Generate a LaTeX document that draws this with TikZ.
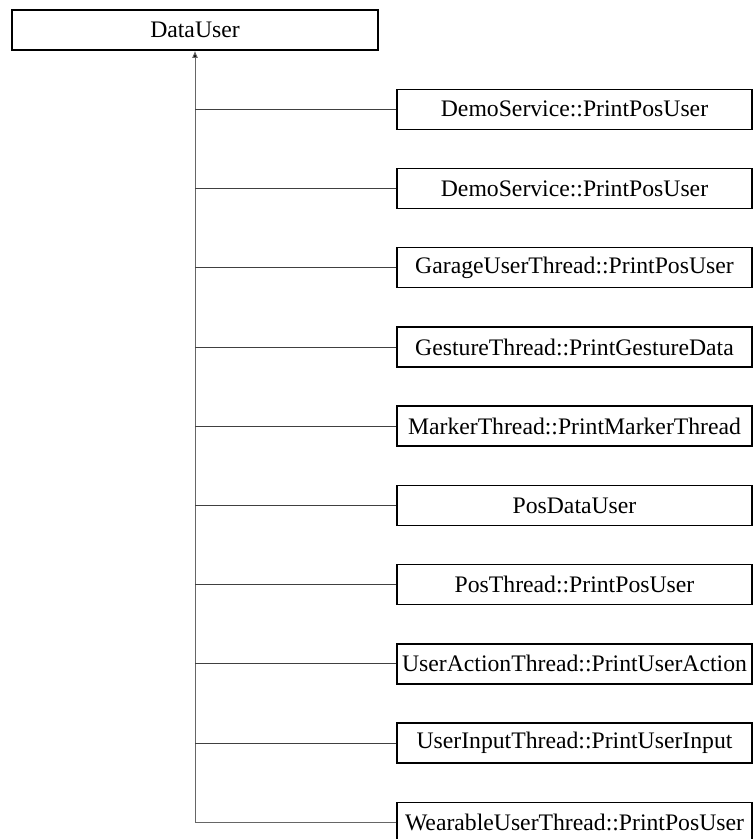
\documentclass[tikz,border=0pt]{standalone}
\usepackage{fontspec}
\setmainfont{Liberation Serif}
\usetikzlibrary{arrows.meta}
\usetikzlibrary{positioning}

\tikzset{
  classbox/.style={draw=black,line width=1.5pt,fill=white,inner sep=0pt,
    minimum height=40pt,font=\fontsize{23.7}{28}\selectfont},
  childbox/.style={classbox,minimum width=355pt},
  trunk/.style={draw=black!60,line width=1pt},
  branch/.style={draw=black!75,line width=1pt}
}

\begin{document}
\begin{tikzpicture}[x=1pt,y=-1pt]
\useasboundingbox (0,0) rectangle (755,839);

\node[classbox,minimum width=366pt] (DataUser) at (195,30) {DataUser};

\node[childbox] (demoA) at (574.5,109.3) {DemoService::PrintPosUser};
\node[childbox] (demoB) at (574.5,188.5) {DemoService::PrintPosUser};
\node[childbox] (garage) at (574.5,267.7) {GarageUserThread::PrintPosUser};
\node[childbox] (gesture) at (574.5,347.0) {GestureThread::PrintGestureData};
\node[childbox] (marker) at (574.5,426.2) {MarkerThread::PrintMarkerThread};
\node[childbox] (posdata) at (574.5,505.4) {PosDataUser};
\node[childbox] (posthread) at (574.5,584.6) {PosThread::PrintPosUser};
\node[childbox] (action) at (574.5,663.8) {UserActionThread::PrintUserAction};
\node[childbox] (input) at (574.5,743.1) {UserInputThread::PrintUserInput};
\node[childbox] (wearable) at (574.5,822.3) {WearableUserThread::PrintPosUser};

\coordinate (trunkend) at (wearable.west -| DataUser.south);

\draw[trunk,-{Latex[length=7pt,width=6pt,fill=black]}] (trunkend) -- (DataUser.south);
\draw[branch] (demoA.west) -- (demoA.west -| DataUser.south);
\draw[branch] (demoB.west) -- (demoB.west -| DataUser.south);
\draw[branch] (garage.west) -- (garage.west -| DataUser.south);
\draw[branch] (gesture.west) -- (gesture.west -| DataUser.south);
\draw[branch] (marker.west) -- (marker.west -| DataUser.south);
\draw[branch] (posdata.west) -- (posdata.west -| DataUser.south);
\draw[branch] (posthread.west) -- (posthread.west -| DataUser.south);
\draw[branch] (action.west) -- (action.west -| DataUser.south);
\draw[branch] (input.west) -- (input.west -| DataUser.south);
\draw[trunk] (wearable.west) -- (trunkend);

\end{tikzpicture}
\end{document}
